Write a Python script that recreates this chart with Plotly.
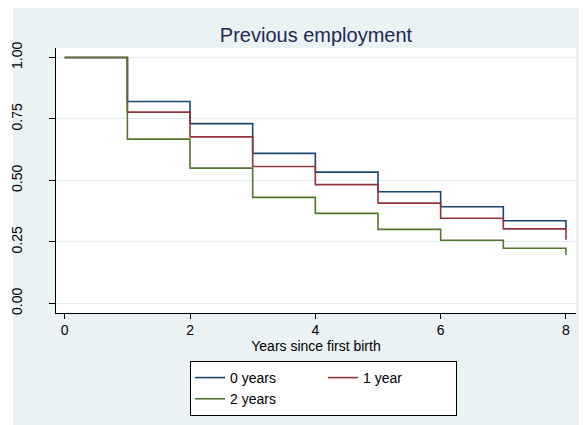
import plotly.graph_objects as go

# Data
years = [0, 1, 2, 3, 4, 5, 6, 7, 8]
surv_0_years = [1.0, 0.821, 0.731, 0.610, 0.534, 0.454, 0.393, 0.336, 0.305]
surv_1_year = [1.0, 0.778, 0.677, 0.557, 0.483, 0.408, 0.346, 0.303, 0.259]
surv_2_years = [1.0, 0.668, 0.550, 0.431, 0.366, 0.301, 0.257, 0.224, 0.197]
series_names = ["0 years", "1 year", "2 years"]
series_colors = ["#1a476f", "#90353b", "#55752f"]
x_ticks = [0, 2, 4, 6, 8]
y_ticks = [0.0, 0.25, 0.5, 0.75, 1.0]
y_tick_labels = ["0.00", "0.25", "0.50", "0.75", "1.00"]

BG = "#eaf2f3"
FONT = "Liberation Sans, Arial, sans-serif"

fig = go.Figure()
groups = ["a", "b", "a"]
for name, ys, col, grp in zip(series_names, [surv_0_years, surv_1_year, surv_2_years], series_colors, groups):
    fig.add_trace(go.Scatter(
        x=years, y=ys, mode="lines", name=name,
        line=dict(color=col, width=1.6, shape="hv"),
        legendgroup=grp,
    ))

# page has an 8px body margin, so the figure is laid out 8px smaller
OFF = 8
W, H = 587 - OFF, 425 - OFF
ml, mr, mt, mb = 56 - OFF, 11, 48 - OFF, 112
pw = W - ml - mr
ph = H - mt - mb

def px_x(x):  # page pixel -> paper coord
    return (x - OFF - ml) / pw

def px_y(y):
    return (H - mb - (y - OFF)) / ph

fig.update_layout(
    width=W, height=H,
    margin=dict(l=ml, r=mr, t=mt, b=mb, autoexpand=False),
    paper_bgcolor=BG,
    plot_bgcolor="white",
    font=dict(family=FONT, size=14, color="black"),
    title=dict(text="Previous employment", x=(316 - OFF) / W, xanchor="center",
               y=(H - (35 - OFF)) / H, yanchor="middle", yref="container",
               font=dict(size=20, color="#1c2a57", family=FONT)),
    showlegend=True,
    legend=dict(orientation="h", x=px_x(190), xanchor="left", y=px_y(361), yanchor="top",
                bgcolor="white", bordercolor="black", borderwidth=1,
                font=dict(size=14, family=FONT), tracegroupgap=0,
                traceorder="grouped", entrywidth=88),
    shapes=[
        dict(type="rect", xref="paper", yref="paper", layer="below",
             x0=px_x(-5), x1=px_x(13), y0=px_y(440), y1=px_y(-5),
             fillcolor="white", line=dict(width=0)),
    ],
)

fig.update_xaxes(
    range=[-0.139, 8.16], tickvals=x_ticks, ticktext=[str(v) for v in x_ticks],
    ticks="outside", ticklen=5, tickcolor="black", tickwidth=1,
    showline=True, linecolor="black", linewidth=1.2, mirror=False,
    showgrid=False, zeroline=False, automargin=False,
    tickfont=dict(size=14, color="black"), ticklabelstandoff=-1,
    title=dict(text="Years since first birth", font=dict(size=14, color="black"), standoff=0),
)
fig.update_yaxes(
    range=[-0.039, 1.0386], tickvals=y_ticks, ticktext=y_tick_labels,
    ticks="outside", ticklen=6, tickcolor="black", tickwidth=1,
    showline=True, linecolor="black", linewidth=1.2, mirror=False,
    showgrid=True, gridcolor="#e4eef0", gridwidth=1, zeroline=False, automargin=False,
    tickangle=-90, ticklabelstandoff=21,
    tickfont=dict(size=14, color="black"),
)

fig.write_html("out.html")
